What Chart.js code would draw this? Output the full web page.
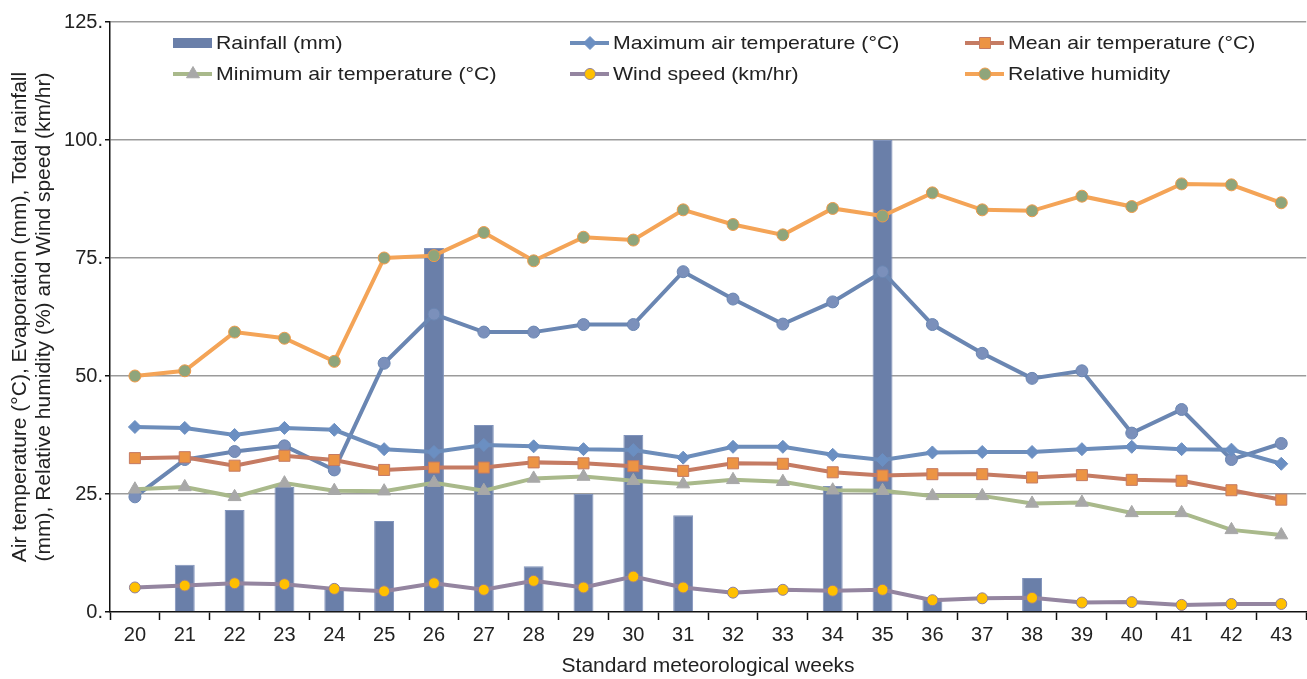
<!DOCTYPE html>
<html>
<head>
<meta charset="utf-8">
<script src="https://cdn.jsdelivr.net/npm/chart.js@4.4.1/dist/chart.umd.min.js"></script>
<style>
  html, body { margin: 0; padding: 0; background: #fff; overflow: hidden; }
  #wrap { width: 1315px; height: 679px; position: relative; }
  canvas { display: block; }
</style>
</head>
<body>
<div id="wrap"><canvas id="grafico"></canvas></div>
<script>
// dados
const weeks = ['20','21','22','23','24','25','26','27','28','29','30','31','32','33','34','35','36','37','38','39','40','41','42','43'];
const rainfall = [null, 10.0, 21.6, 26.5, 5.0, 19.3, 77.1, 39.6, 9.7, 25.0, 37.5, 20.5, null, null, 26.7, 100, 3.0, null, 7.2, null, null, null, null, null];
const maxTemp = [39.2, 39.0, 37.5, 39.0, 38.6, 34.5, 33.9, 35.4, 35.1, 34.5, 34.3, 32.7, 35.0, 35.0, 33.3, 32.2, 33.8, 33.9, 33.9, 34.5, 35.0, 34.5, 34.4, 31.4];
const meanTemp = [32.6, 32.8, 31.0, 33.1, 32.2, 30.1, 30.6, 30.6, 31.7, 31.5, 30.9, 29.9, 31.5, 31.4, 29.6, 28.9, 29.2, 29.2, 28.5, 29.0, 28.0, 27.8, 25.8, 23.8];
const minTemp = [26.0, 26.5, 24.4, 27.3, 25.7, 25.6, 27.4, 25.7, 28.3, 28.7, 27.8, 27.1, 28.0, 27.6, 25.8, 25.7, 24.6, 24.6, 23.0, 23.2, 21.0, 21.0, 17.4, 16.3];
const windSpeed = [5.2, 5.6, 6.1, 5.9, 4.9, 4.4, 6.1, 4.7, 6.6, 5.2, 7.5, 5.2, 4.1, 4.7, 4.5, 4.7, 2.5, 2.9, 3.0, 2.0, 2.1, 1.5, 1.7, 1.7];
const humidity = [50.0, 51.1, 59.3, 58.0, 53.1, 75.0, 75.5, 80.4, 74.4, 79.4, 78.8, 85.2, 82.1, 79.9, 85.5, 83.9, 88.8, 85.2, 85.0, 88.1, 85.9, 90.7, 90.5, 86.7];
const evaporation = [24.4, 32.3, 34.0, 35.2, 30.1, 52.7, 63.1, 59.3, 59.3, 60.9, 60.9, 72.1, 66.3, 61.0, 65.7, 72.1, 60.9, 54.8, 49.5, 51.1, 37.9, 42.9, 32.3, 35.7];
const yTicks = [0, 25, 50, 75, 100, 125];
const yTickLabels = ['0.', '25.', '50.', '75.', '100.', '125.'];

const fonte = '"Liberation Sans", Arial, sans-serif';

function linha(label, data, cor, estilo, raio, fundo, borda) {
    return {
        type: 'line',
        label: label,
        data: data,
        borderColor: cor,
        borderWidth: 4,
        pointStyle: estilo,
        pointRadius: raio,
        pointBackgroundColor: fundo,
        pointBorderColor: borda,
        pointBorderWidth: 1,
        tension: 0,
        order: 1
    };
}

// legenda desenhada à mão (3 colunas x 2 linhas)
const legendaPlugin = {
    id: 'legenda',
    afterDraw(chart) {
        const ctx = chart.ctx;
        const cols = [173, 570, 965];
        const rows = [43, 74];
        const itens = [0, 1, 2, 3, 4, 5];
        ctx.save();
        ctx.textBaseline = 'middle';
        itens.forEach((idx, i) => {
            const ds = chart.data.datasets[idx];
            const x = cols[i % 3];
            const y = rows[Math.floor(i / 3)];
            if (ds.type === 'bar') {
                ctx.fillStyle = ds.backgroundColor;
                ctx.fillRect(x, y - 5, 39, 10);
            } else {
                ctx.strokeStyle = ds.borderColor;
                ctx.lineWidth = 4;
                ctx.beginPath();
                ctx.moveTo(x, y);
                ctx.lineTo(x + 39, y);
                ctx.stroke();
                ctx.fillStyle = ds.pointBackgroundColor;
                ctx.strokeStyle = ds.pointBorderColor;
                ctx.lineWidth = 1;
                Chart.helpers.drawPoint(ctx, { pointStyle: ds.pointStyle, radius: ds.pointRadius, borderWidth: 1 }, x + 20, y);
            }
            // texto levemente esticado na horizontal, como no original
            ctx.save();
            ctx.translate(x + 43, y + 1);
            ctx.scale(1.12, 1);
            ctx.font = '19px ' + fonte;
            ctx.fillStyle = '#222';
            ctx.fillText(ds.label, 0, 0);
            ctx.restore();
        });
        ctx.restore();
    }
};

const ctx = document.getElementById('grafico');

new Chart(ctx, {
    data: {
        labels: weeks,
        datasets: [
            {
                type: 'bar',
                label: 'Rainfall (mm)',
                data: rainfall,
                backgroundColor: '#6a7fa9',
                borderColor: '#8093bb',
                borderWidth: 1,
                barPercentage: 0.8,
                categoryPercentage: 0.5,
                order: 10
            },
            linha('Maximum air temperature (°C)', maxTemp, '#6d8dba', 'rectRot', 6.5, '#6b8fc2', '#6b8fc2'),
            linha('Mean air temperature (°C)', meanTemp, '#c57b63', 'rect', 7.8, '#ec9444', '#c57b63'),
            linha('Minimum air temperature (°C)', minTemp, '#a9b98b', 'triangle', 7.5, '#a8a8a8', '#a8a8a8'),
            linha('Wind speed (km/hr)', windSpeed, '#9485a0', 'circle', 5.5, '#ffc000', '#8f7f9c'),
            linha('Relative humidity', humidity, '#f4a457', 'circle', 6, '#8fa57b', '#f09a48'),
            linha('Evaporation (mm)', evaporation, '#6a86b2', 'circle', 6, '#7b90bb', '#6a86b2')
        ]
    },
    options: {
        responsive: true,
        maintainAspectRatio: false,
        animation: false,
        layout: { padding: { top: 22, right: 0, left: 0, bottom: 0 } },
        plugins: {
            legend: { display: false },
            tooltip: { enabled: false }
        },
        scales: {
            x: {
                offset: true,
                grid: {
                    offset: true,
                    drawOnChartArea: false,
                    tickLength: 8,
                    tickColor: '#111',
                    tickWidth: 1.5
                },
                border: { color: '#111', width: 1.5 },
                ticks: {
                    color: '#222',
                    font: { family: fonte, size: 20 },
                    padding: 3,
                    maxRotation: 0,
                    autoSkip: false
                },
                title: {
                    display: true,
                    text: 'Standard meteorological weeks',
                    color: '#222',
                    font: { family: fonte, size: 21 },
                    padding: { top: 6, bottom: 0 }
                },
                afterFit(scale) { scale.height = 67; }
            },
            y: {
                min: 0,
                max: 125,
                afterBuildTicks(scale) { scale.ticks = yTicks.map(v => ({ value: v })); },
                grid: {
                    color: c => c.tick && c.tick.value === 0 ? 'rgba(0,0,0,0)' : '#9b9b9b',
                    lineWidth: 1.5,
                    tickLength: 5,
                    tickColor: '#111'
                },
                border: { color: '#111', width: 1.5 },
                ticks: {
                    color: '#222',
                    font: { family: fonte, size: 20 },
                    padding: 2,
                    callback: (v) => yTickLabels[yTicks.indexOf(v)]
                },
                title: {
                    display: true,
                    text: ['Air temperature (°C), Evaporation (mm), Total rainfall', '(mm), Relative humidity (%) and Wind speed (km/hr)'],
                    color: '#222',
                    font: { family: fonte, size: 21, lineHeight: 1.15 },
                    padding: { top: 8, bottom: 4 }
                },
                afterFit(scale) { scale.width = 110; }
            }
        }
    },
    plugins: [legendaPlugin]
});
</script>
</body>
</html>
